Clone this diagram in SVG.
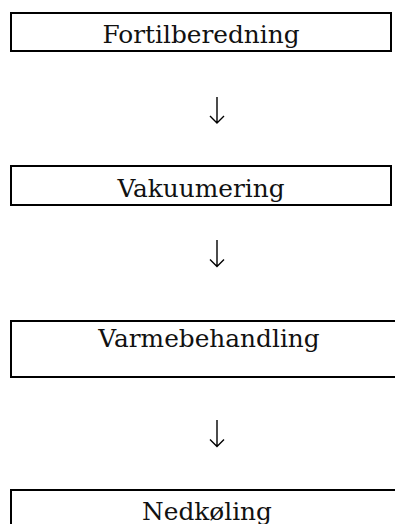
<svg xmlns="http://www.w3.org/2000/svg" width="395" height="524" viewBox="0 0 395 524">
<style>
.box{fill:#fff;stroke:#000;stroke-width:2}
.lbl{font-family:"DejaVu Serif","Liberation Serif",serif;font-size:24.8px;fill:#111;text-anchor:middle}
.arr{fill:none;stroke:#000;stroke-width:1.4}
</style>
<rect width="395" height="524" fill="#fff"/>
<g id="n1"><rect class="box" x="11" y="13" width="380" height="38"/><text class="lbl" x="201" y="42.7">Fortilberedning</text></g>
<g id="n2"><rect class="box" x="11" y="166" width="380" height="39"/><text class="lbl" x="201" y="196.7">Vakuumering</text></g>
<g id="n3"><rect class="box" x="11" y="321" width="400" height="56"/><text class="lbl" x="209" y="346.7">Varmebehandling</text></g>
<g id="n4"><rect class="box" x="11" y="490" width="400" height="60"/><text class="lbl" x="207" y="520">Nedkøling</text></g>
<g id="connectors">
<path class="arr" d="M217 97V123M210 116L217 123L224 116"/>
<path class="arr" d="M217 240V266.5M210 259.5L217 266.5L224 259.5"/>
<path class="arr" d="M217 420V446.5M210 439.5L217 446.5L224 439.5"/>
</g>
</svg>
